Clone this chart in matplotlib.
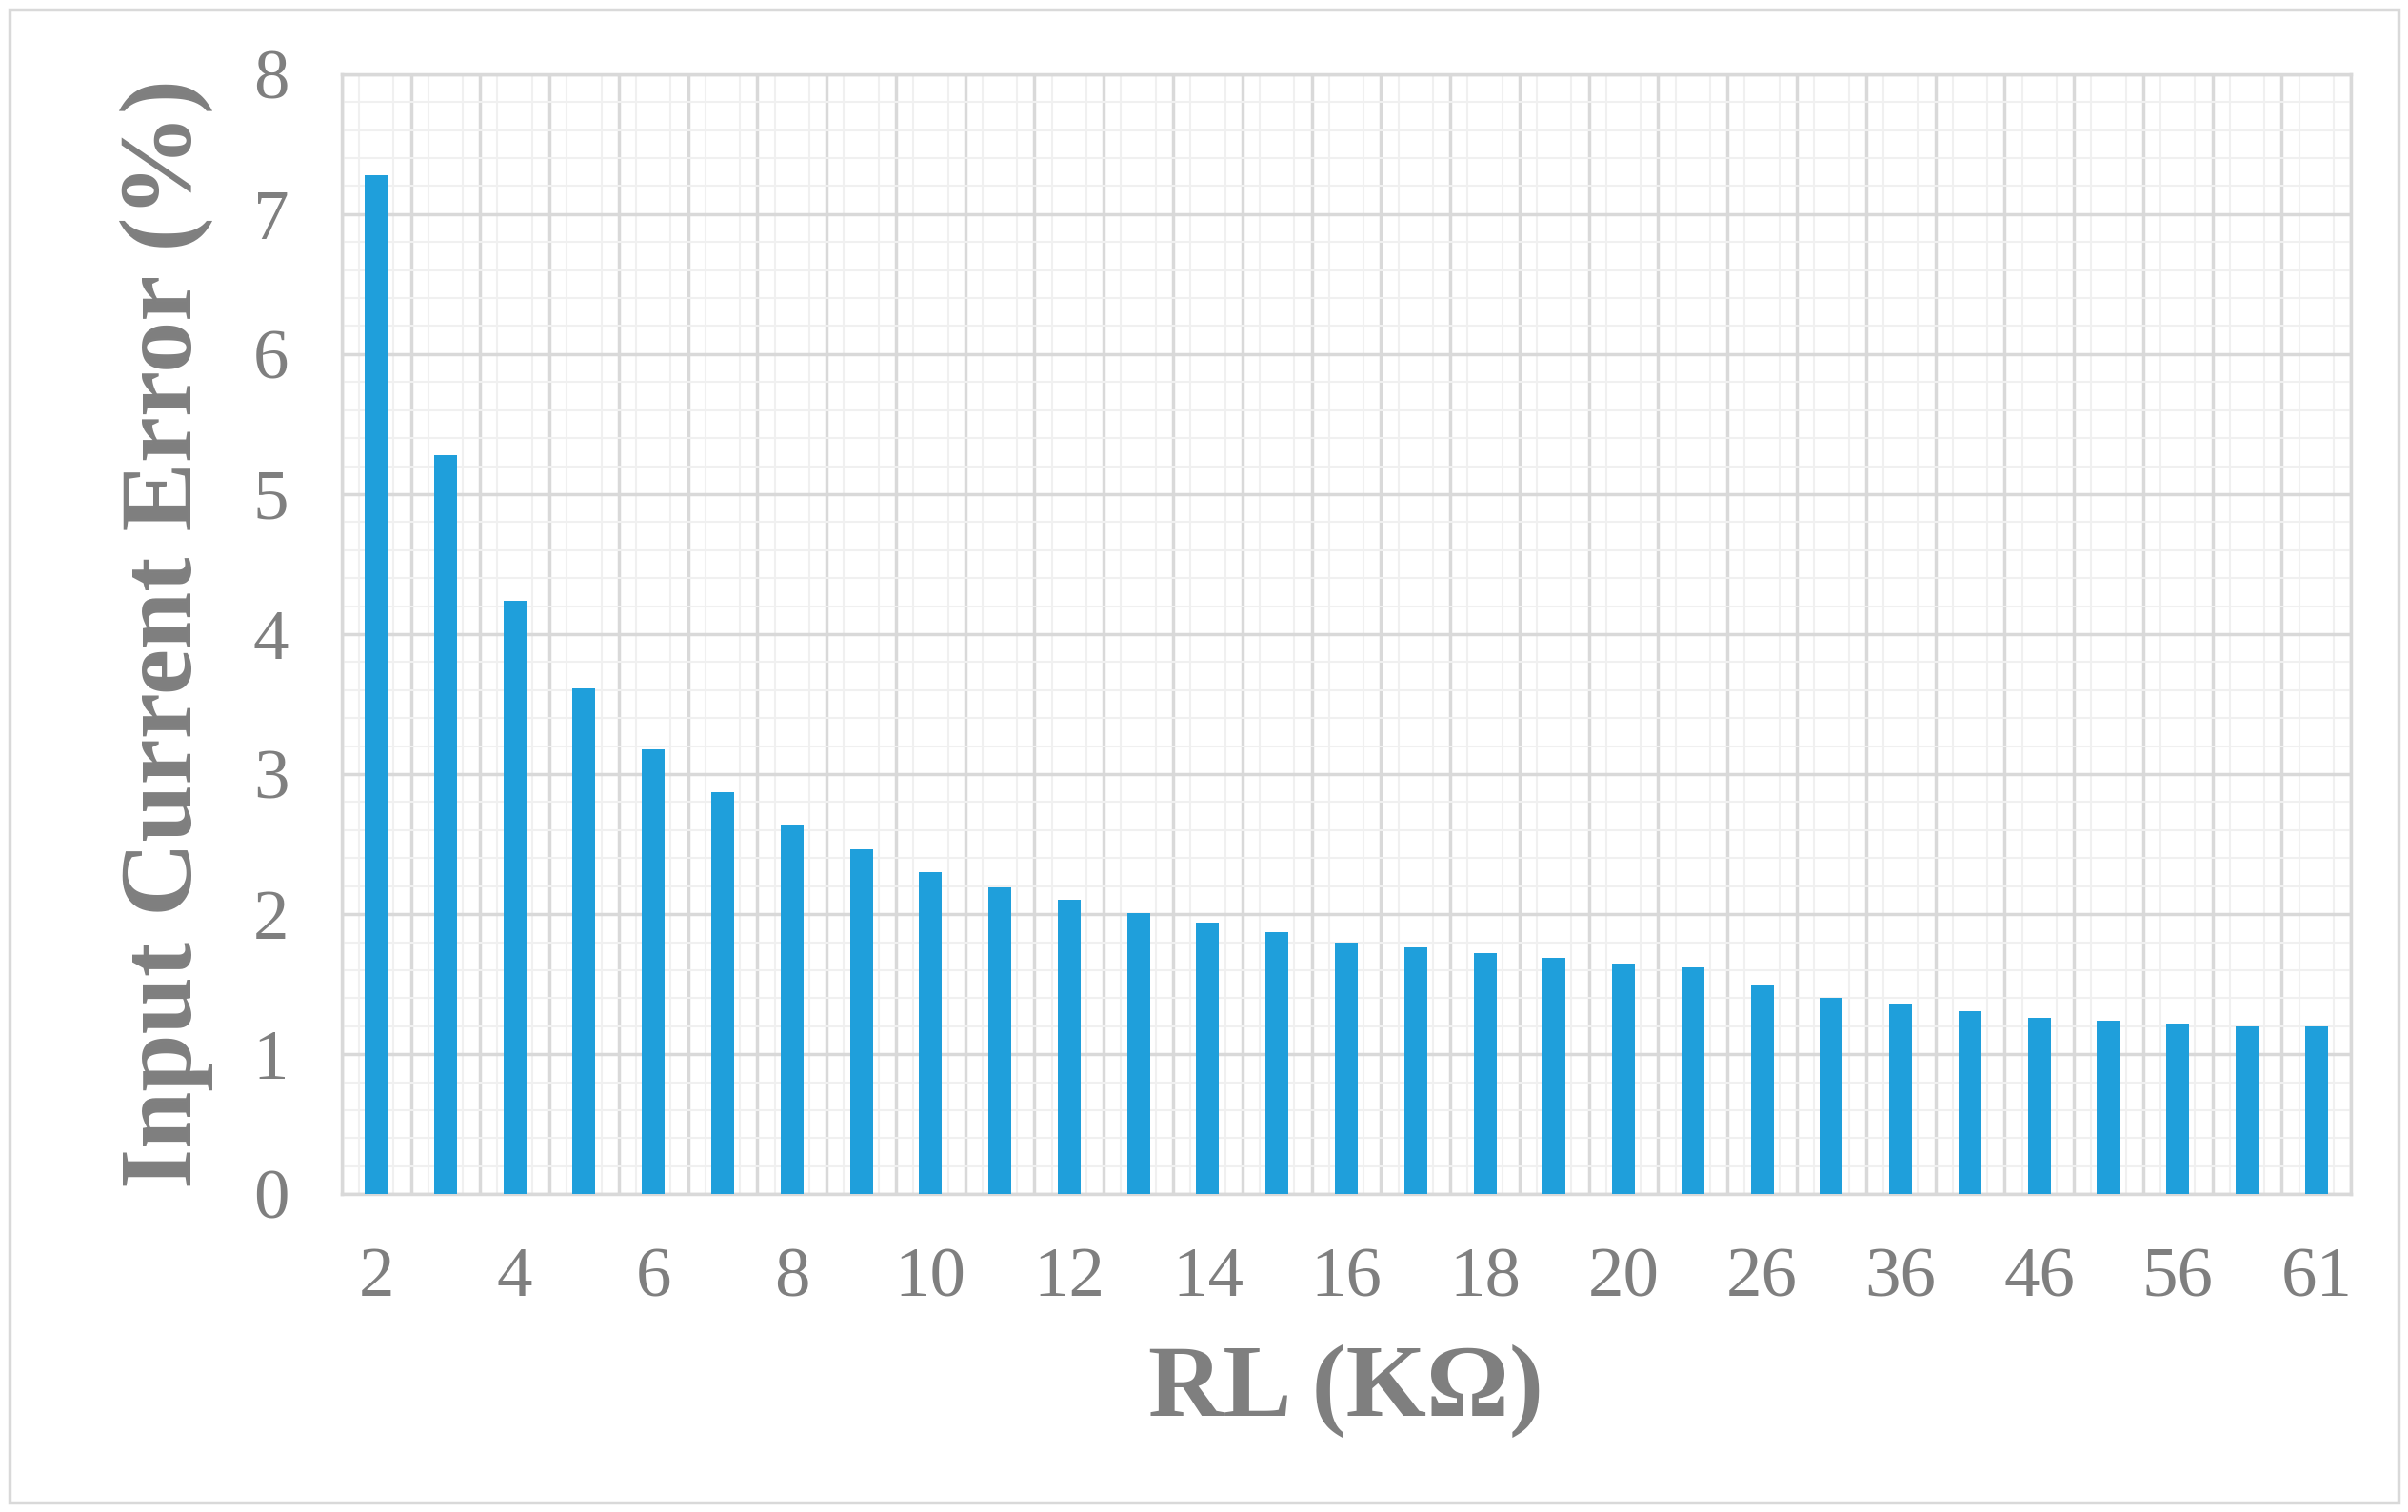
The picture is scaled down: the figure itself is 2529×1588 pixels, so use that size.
import matplotlib
matplotlib.use("Agg")
import matplotlib.pyplot as plt
from matplotlib.ticker import MultipleLocator

categories = ["2","3","4","5","6","7","8","9","10","11","12","13","14","15","16","17","18","19","20",
              "22","26","31","36","41","46","51","56","59","61"]
values = [7.28, 5.28, 4.24, 3.61, 3.18, 2.87, 2.64, 2.46, 2.30, 2.19, 2.10, 2.01, 1.94, 1.87, 1.80,
          1.76, 1.72, 1.69, 1.65, 1.62, 1.49, 1.40, 1.36, 1.31, 1.26, 1.24, 1.22, 1.20, 1.20]

plt.rcParams['font.family'] = 'serif'
plt.rcParams['font.serif'] = ['Liberation Serif', 'Times New Roman', 'DejaVu Serif']
grey = '#7f7f7f'
fig = plt.figure(figsize=(25.29, 15.88), dpi=100)
ax = fig.add_axes([222/1565, 1-774/980, (1528-222)/1565, (774-48)/980])
x = list(range(len(categories)))
ax.bar(x, values, width=0.33, color='#1f9fdb', zorder=3)
ax.set_xlim(-0.5, len(categories)-0.5)
ax.set_ylim(0, 8)
ax.yaxis.set_major_locator(MultipleLocator(1))
ax.yaxis.set_minor_locator(MultipleLocator(0.2))
ax.set_xticks(x[::2])
ax.set_xticklabels(categories[::2])
ax.set_xticks([i-0.5 for i in range(len(categories)+1)], minor=True)
ax.grid(which='major', axis='y', color='#d9d9d9', lw=2.5, zorder=0)
ax.grid(which='minor', axis='y', color='#f0f0f0', lw=1.5, zorder=0)
ax.grid(which='minor', axis='x', color='#d9d9d9', lw=2.5, zorder=0)
for i in x:
    ax.axvline(i-0.25, color='#f0f0f0', lw=1.5, zorder=0)
    ax.axvline(i+0.25, color='#f0f0f0', lw=1.5, zorder=0)
for s in ax.spines.values():
    s.set_color('#d9d9d9'); s.set_linewidth(2.5)
ax.tick_params(which='both', length=0, labelsize=54, colors=grey, pad=40)
ax.set_ylabel('Input Current Error (%)', fontsize=78, fontweight='bold', color=grey, labelpad=30)
ax.set_xlabel('RL (KΩ)', fontsize=78, fontweight='bold', color=grey, labelpad=25)
fig.patches.append(plt.Rectangle((0.004, 0.006), 0.992, 0.988, transform=fig.transFigure,
                                 fill=False, edgecolor='#d9d9d9', lw=2.5))
fig.savefig('out.png', dpi=100)
